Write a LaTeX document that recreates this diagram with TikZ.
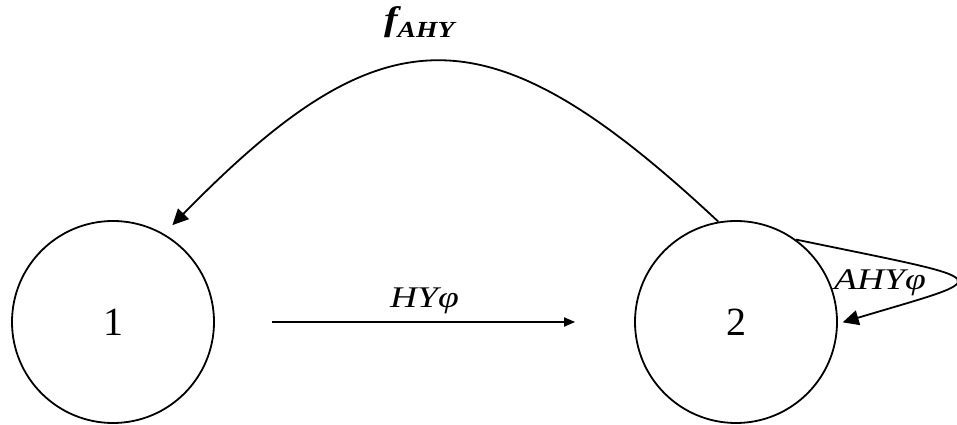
\documentclass[tikz,border=0pt]{standalone}
\usepackage{fontspec}
\setmainfont{Liberation Serif}
\usetikzlibrary{arrows.meta}

\begin{document}
\begin{tikzpicture}[x=1pt,y=1pt,node distance=623pt,line width=1.8pt,
    stnode/.style={draw, circle, minimum size=202pt, inner sep=0pt, font=\fontsize{40}{46}\selectfont},
    lbl/.style={font=\fontsize{30}{34}\selectfont\itshape, xscale=1.25, anchor=base},
    bigtip/.style={-{Triangle[length=16pt,width=15pt]}},
    smalltip/.style={-{Triangle[length=11pt,width=9pt]}}]
    \useasboundingbox (0,0) rectangle (957,425);
        \node (s1) [stnode] at (113,103) {1};
        \node (s2) [stnode, right of=s1] {2};

        \draw[smalltip, shorten <=57pt, shorten >=59pt] (s1) -- node[lbl, yshift=14pt] {HYφ} (s2);
        \draw[bigtip, shorten >=12pt] (s2.100) .. controls +(-230,215) and +(220,225) .. (s1.60);
        \draw[bigtip, shorten >=5pt] (s2.54) .. controls +(208,-43) and +(160,48) .. (s2.-1);

        \node (fahy) [font=\fontsize{34}{38}\selectfont\bfseries\itshape, xscale=1.2, anchor=base west, inner sep=0pt] at (383,394) {f\raisebox{-7pt}{\fontsize{23}{26}\selectfont AHY}};
        \node (lahy) [lbl] at (880,135) {AHYφ};
    \end{tikzpicture}
\end{document}
